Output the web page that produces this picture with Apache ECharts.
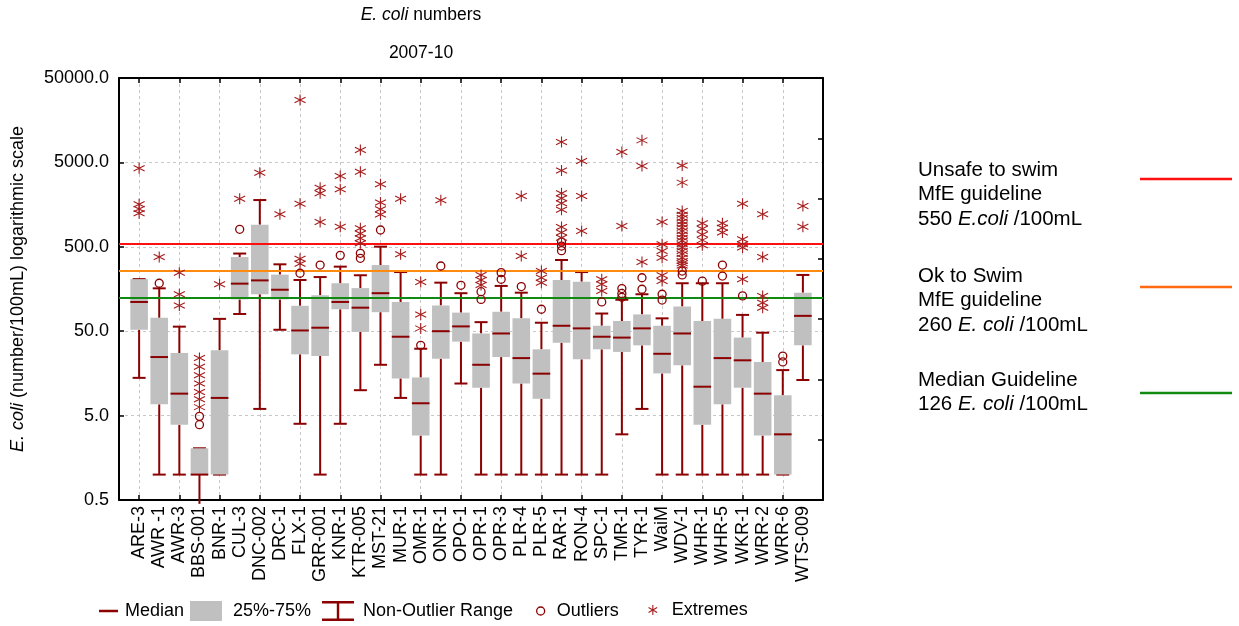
<!DOCTYPE html>
<html>
<head>
<meta charset="utf-8">
<script src="https://cdn.jsdelivr.net/npm/echarts@6/dist/echarts.min.js"></script>
<style>
  html, body { margin: 0; padding: 0; background: #fff; }
  #chart { width: 1239px; height: 626px; }
</style>
</head>
<body>
<div id="chart"></div>
<script>
// Sampling sites along the x axis
const sites = ['ARE-3','AWR -1','AWR-3','BBS-001','BNR-1','CUL-3','DNC-002','DRC-1','FLX-1','GRR-001',
  'KNR-1','KTR-005','MST-21','MUR-1','OMR-1','ONR-1','OPO-1','OPR-1','OPR-3','PLR-4','PLR-5','RAR-1',
  'RON-4','SPC-1','TMR-1','TYR-1','WaiM','WDV-1','WHR-1','WHR-5','WKR-1','WRR-2','WRR-6','WTS-009'];

// Box-plot statistics per site (E. coli per 100 mL)
const lowWhisker  = [14, 1, 1, 0.45, 1, 80, 6, 52, 4, 1, 4, 10, 20, 8.1, 1, 1, 12, 1, 1, 1, 1, 1, 1, 1, 3, 6, 1, 1, 1, 1, 1, 1, 1, 13.2];
const q1          = [52, 6.8, 3.9, 1, 1, 119, 137, 119, 26.6, 25.4, 91, 49, 84, 13.8, 2.9, 23.6, 37.6, 10.7, 24.7, 12, 7.9, 36.6, 23.2, 30.5, 28.4, 34, 15.8, 19.7, 3.9, 6.8, 10.7, 2.9, 1, 34];
const median      = [111, 24.7, 9.1, 1, 8.1, 183, 200, 155, 51, 55, 111, 95, 141, 43, 7, 50, 57, 20, 47, 24, 15.7, 58, 54, 43, 42, 54, 27, 47, 11, 24, 22.6, 9.1, 3, 76];
const q3          = [207, 72, 27.6, 2.05, 29.7, 378, 915, 234, 100, 133, 185, 162, 304, 111, 14.1, 101, 83, 47, 85, 71, 30.5, 202, 193, 58, 66, 79, 58, 98, 66, 70, 42, 21.6, 8.7, 143];
const highWhisker = [207, 161, 56.6, 2.05, 70, 416, 1790, 310, 202, 219, 291, 230, 502, 251, 31, 188, 141, 64, 172, 143, 63, 349, 251, 81, 118, 137, 71, 185, 185, 185, 78, 48, 17.3, 232];

const outliers = [[], [185], [], [4.9, 3.9], [], [806], [], [], [243], [304], [396], [419, 365], [791], [], [34],
  [296], [175], [147, 119], [247, 206], [169], [91], [570, 510, 450], [], [111], [160, 140, 126], [215, 157],
  [137, 117], [258, 232], [196], [304, 225], [131], [], [25.4, 21.6], []];

const extremes = [[4250, 1600, 1400, 1250], [378], [247, 137, 101], [24, 19, 15, 12, 9.5, 7.8, 6.3], [180], [1857],
  [3780], [1213], [27400, 1620, 360, 315], [2500, 2150, 984], [3450, 2400, 866], [7000, 3880, 830, 720, 630, 550],
  [2750, 1670, 1390, 1210], [1860, 407], [191, 79, 54], [1780], [], [232, 202, 176], [], [2000, 389], [258, 215, 188],
  [8700, 4000, 2150, 1880, 1640, 1370, 860, 740, 640], [5200, 2000, 770], [206, 180, 150], [6640, 880],
  [9120, 4530, 330], [984, 535, 446, 372, 230, 197],
  [4600, 2880, 1330, 1200, 1100, 1000, 920, 840, 770, 700, 640, 590, 535, 490, 446, 410, 372, 340, 320, 300],
  [950, 820, 700, 600, 520], [950, 840, 740], [1620, 613, 535, 489, 206], [1213, 378, 131, 109, 95], [], [1520, 866]];

// Log-axis tick values
const yTicks = [0.5, 5, 50, 500, 5000, 50000];

// Bathing guidelines
const guideValues = [550, 260, 126];
const guideTitles = [['Unsafe to swim', 'MfE guideline'], ['Ok to Swim', 'MfE guideline'], ['Median Guideline']];
const guideUnits = ['E.coli', 'E. coli', 'E. coli'];

// ---- styling ----
const FONT = '"Liberation Sans", Arial, sans-serif';
const DARK_RED = '#8b0000';
const STAR_RED = '#a51d1d';
const BOX_GRAY = '#c0c0c0';
const GUIDE_COLORS = ['#ff1010', '#ff8a10', '#108a10'];
const KEY_COLORS = ['#ff1010', '#ff6a10', '#108a10'];
const BOX_W = 17.6;
const CAP_W = 13;
const Y_MIN = yTicks[0];
const STAR_PATH = 'path://M5,0L5,10M0.7,2.5L9.3,7.5M0.7,7.5L9.3,2.5';
const IBEAM_PATH = 'path://M0,0H32V2.5H17.2V17.5H32V20H0V17.5H14.8V2.5H0Z';

// Category slots: an empty slot at each end pads the plot frame
const axisData = [''].concat(sites, ['']);
const slot = i => i + 1;
const boxData = sites.map((s, i) => [slot(i), lowWhisker[i], q1[i], median[i], q3[i], highWhisker[i]]);
const outlierData = [];
outliers.forEach((list, i) => list.forEach(v => outlierData.push([slot(i), v])));
const extremeData = [];
extremes.forEach((list, i) => list.forEach(v => extremeData.push([slot(i), v])));

function renderWhisker(params, api) {
  const x = api.value(0);
  const lo = api.value(1), b = api.value(2), t = api.value(4), hi = api.value(5);
  const pLo = api.coord([x, lo]), pB = api.coord([x, b]), pT = api.coord([x, t]), pHi = api.coord([x, hi]);
  const style = { stroke: DARK_RED, lineWidth: 2 };
  const children = [
    { type: 'line', shape: { x1: pLo[0], y1: pLo[1], x2: pB[0], y2: pB[1] }, style },
    { type: 'line', shape: { x1: pT[0], y1: pT[1], x2: pHi[0], y2: pHi[1] }, style },
    { type: 'line', shape: { x1: pHi[0] - CAP_W / 2, y1: pHi[1], x2: pHi[0] + CAP_W / 2, y2: pHi[1] }, style }
  ];
  if (lo >= Y_MIN) {
    children.push({ type: 'line', shape: { x1: pLo[0] - CAP_W / 2, y1: pLo[1], x2: pLo[0] + CAP_W / 2, y2: pLo[1] }, style });
  }
  return { type: 'group', children };
}

function renderBox(params, api) {
  const x = api.value(0);
  const top = api.coord([x, api.value(4)]);
  const bot = api.coord([x, api.value(2)]);
  return {
    type: 'rect',
    shape: { x: top[0] - BOX_W / 2, y: top[1], width: BOX_W, height: Math.max(bot[1] - top[1], 0) },
    style: { fill: BOX_GRAY }
  };
}

function renderMedian(params, api) {
  const x = api.value(0);
  const p = api.coord([x, api.value(3)]);
  return {
    type: 'line',
    shape: { x1: p[0] - BOX_W / 2, y1: p[1], x2: p[0] + BOX_W / 2, y2: p[1] },
    style: { stroke: DARK_RED, lineWidth: 2 }
  };
}

const everyOther = idx => idx % 2 === 1;
const txt = { fontFamily: FONT, color: '#000' };

const legendBase = {
  padding: 0, selectedMode: false, orient: 'horizontal',
  textStyle: { fontSize: 18, color: '#000', fontFamily: FONT }
};
function legendItem(name, left, top, extra, gap) {
  return Object.assign({}, legendBase, { data: [name], left, top },
    extra, { textStyle: Object.assign({}, legendBase.textStyle, { padding: [0, 0, 0, gap] }) });
}

// Key for the guideline lines on the right
const keyTextTop = [158, 264, 368];
const keyLineY = [179, 287, 393];
const keyGraphics = [];
guideValues.forEach((v, k) => {
  const lines = guideTitles[k].concat([v + ' {i|' + guideUnits[k] + '} /100mL']);
  keyGraphics.push({
    type: 'text', x: 918, y: keyTextTop[k],
    style: {
      text: lines.join('\n'), fill: '#000', fontFamily: FONT, fontSize: 20.5, lineHeight: 24.5,
      verticalAlign: 'top', align: 'left',
      rich: { i: { fontStyle: 'italic', fontFamily: FONT, fontSize: 20.5, lineHeight: 24.5, fill: '#000' } }
    }
  });
  keyGraphics.push({
    type: 'line', shape: { x1: 1140, y1: keyLineY[k], x2: 1232, y2: keyLineY[k] },
    style: { stroke: KEY_COLORS[k], lineWidth: 2.5 }
  });
});

const option = {
  animation: false,
  textStyle: { fontFamily: FONT },
  title: [
    { text: '{i|E. coli} numbers', left: 421, top: 6, textAlign: 'center', padding: 0,
      textStyle: { fontSize: 17.5, fontWeight: 'normal', color: '#000', fontFamily: FONT,
        rich: { i: { fontStyle: 'italic', fontSize: 17.5, fontFamily: FONT, color: '#000' } } } },
    { text: '2007-10', left: 421, top: 44, textAlign: 'center', padding: 0,
      textStyle: { fontSize: 17.5, fontWeight: 'normal', color: '#000', fontFamily: FONT } }
  ],
  grid: { left: 119, top: 78, right: 416, bottom: 126, containLabel: false },
  xAxis: [
    {
      type: 'category', data: axisData, boundaryGap: false, position: 'bottom',
      axisLine: { show: true, lineStyle: { color: '#000', width: 2 } },
      axisTick: { show: true, inside: true, length: 5, interval: everyOther, lineStyle: { color: '#000', width: 1.5 } },
      axisLabel: { interval: 0, rotate: 90, margin: 6, fontSize: 18, ...txt },
      splitLine: { show: true, interval: everyOther, lineStyle: { color: '#c8c8c8', width: 1, type: [3, 3] } }
    },
    {
      type: 'category', data: axisData, boundaryGap: false, position: 'top',
      axisLine: { show: true, lineStyle: { color: '#000', width: 2 } },
      axisTick: { show: true, inside: true, length: 5, interval: everyOther, lineStyle: { color: '#000', width: 1.5 } },
      axisLabel: { show: false },
      splitLine: { show: false }
    }
  ],
  yAxis: [
    {
      type: 'log', logBase: 10, min: yTicks[0], max: yTicks[yTicks.length - 1], position: 'left',
      axisLine: { show: true, lineStyle: { color: '#000', width: 2 } },
      axisTick: { show: true, inside: true, length: 5, customValues: yTicks, lineStyle: { color: '#000', width: 1.5 } },
      axisLabel: { customValues: yTicks, formatter: v => Number(v).toFixed(1), fontSize: 18, margin: 10, ...txt },
      splitLine: { show: true, lineStyle: { color: '#c8c8c8', width: 1, type: [3, 3] } },
      minorTick: { show: false }, minorSplitLine: { show: false },
      name: '{i|E. coli} (number/100mL) logarithmic scale',
      nameLocation: 'middle', nameRotate: 90, nameGap: 92,
      nameTextStyle: { fontSize: 18, color: '#000', fontFamily: FONT,
        rich: { i: { fontStyle: 'italic', fontSize: 18, fontFamily: FONT, color: '#000' } } }
    },
    {
      type: 'value', min: 0, max: 7, interval: 1, position: 'right',
      axisLine: { show: true, lineStyle: { color: '#000', width: 2 } },
      axisTick: { show: true, inside: true, length: 5, lineStyle: { color: '#000', width: 1.5 } },
      axisLabel: { show: false },
      splitLine: { show: false }
    }
  ],
  legend: [
    legendItem('Median', 99, 602, { icon: 'rect', itemWidth: 19, itemHeight: 2.5, itemStyle: { color: DARK_RED } }, 2),
    legendItem('25%-75%', 190, 601, { icon: 'rect', itemWidth: 32, itemHeight: 20, itemStyle: { color: BOX_GRAY } }, 6),
    legendItem('Non-Outlier Range', 322, 601, { icon: IBEAM_PATH, itemWidth: 32, itemHeight: 20, itemStyle: { color: DARK_RED } }, 4),
    legendItem('Outliers', 536, 602, { icon: 'circle', itemWidth: 8, itemHeight: 8,
      itemStyle: { color: 'transparent', borderColor: DARK_RED, borderWidth: 1.3 } }, 7),
    legendItem('Extremes', 648, 601, { icon: STAR_PATH, itemWidth: 10, itemHeight: 10,
      itemStyle: { color: 'transparent', borderColor: STAR_RED, borderWidth: 1.1 } }, 9)
  ],
  graphic: keyGraphics,
  series: [
    {
      name: 'Non-Outlier Range', type: 'custom', renderItem: renderWhisker, data: boxData,
      encode: { x: 0, y: [1, 2, 3, 4, 5] }, z: 2, itemStyle: { color: DARK_RED }, silent: true
    },
    {
      name: '25%-75%', type: 'custom', renderItem: renderBox, data: boxData,
      encode: { x: 0, y: [1, 2, 3, 4, 5] }, z: 3, itemStyle: { color: BOX_GRAY }, silent: true
    },
    {
      name: 'Median', type: 'custom', renderItem: renderMedian, data: boxData,
      encode: { x: 0, y: [1, 2, 3, 4, 5] }, z: 4, itemStyle: { color: DARK_RED }, silent: true
    },
    {
      name: 'Outliers', type: 'scatter', data: outlierData, z: 5, silent: true,
      symbol: 'circle', symbolSize: 8,
      itemStyle: { color: 'transparent', borderColor: DARK_RED, borderWidth: 1.3, opacity: 1 },
      markLine: {
        silent: true, symbol: 'none', animation: false, label: { show: false },
        data: guideValues.map((v, k) => ({ yAxis: v, lineStyle: { color: GUIDE_COLORS[k], width: 2, type: 'solid' } }))
      }
    },
    {
      name: 'Extremes', type: 'scatter', data: extremeData, z: 5, silent: true,
      symbol: STAR_PATH, symbolSize: 11,
      itemStyle: { color: 'transparent', borderColor: STAR_RED, borderWidth: 1.1, opacity: 1 }
    }
  ]
};

const chart = echarts.init(document.getElementById('chart'), null, { renderer: 'canvas' });
chart.setOption(option);
</script>
</body>
</html>
